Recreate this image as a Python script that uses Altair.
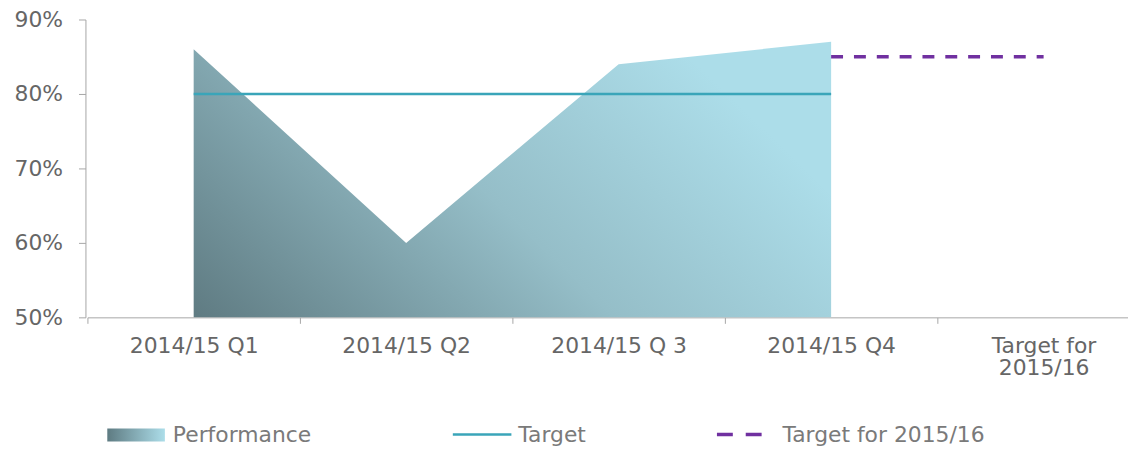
import altair as alt
import pandas as pd

categories = ["2014/15 Q1", "2014/15 Q2", "2014/15 Q 3", "2014/15 Q4", "Target for\n2015/16"]
performance = [0.86, 0.60, 0.84, 0.87]
target = [0.80, 0.80, 0.80, 0.80]
target_next_cats = ["2014/15 Q4", "Target for\n2015/16"]
target_next = [0.85, 0.85]
y_ticks = [0.5, 0.6, 0.7, 0.8, 0.9]
legend_items = ["Performance", "Target", "Target for 2015/16"]
legend_slots = [0, 1, 2]

FONT = "DejaVu Sans"
AXIS_GRAY = "#a6a6a6"

perf_df = pd.DataFrame({"cat": categories[:4], "v": performance})
target_df = pd.DataFrame({"cat": categories[:4], "v": target})
next_df = pd.DataFrame({"cat": target_next_cats, "v": target_next})
legend_df = pd.DataFrame({"item": legend_items, "slot": legend_slots})

x_axis = alt.Axis(
    title=None, labelAngle=0, tickBand="extent", grid=False,
    labelExpr="split(datum.label, '\\n')",
    labelFont=FONT, labelFontSize=22, labelColor="#666666",
    labelLineHeight=23, labelPadding=12, tickSize=6,
    domainColor=AXIS_GRAY, tickColor=AXIS_GRAY, labelLimit=300,
)
y_axis = alt.Axis(
    title=None, values=y_ticks, format=".0%", grid=False,
    labelFont=FONT, labelFontSize=22, labelColor="#666666",
    labelPadding=16, tickSize=7,
    domainColor=AXIS_GRAY, tickColor=AXIS_GRAY,
)
x_scale = alt.Scale(type="band", domain=categories, paddingInner=0, paddingOuter=0, range=[2, 1072])
y_scale = alt.Scale(domain=[0.5, 0.9], zero=False, nice=False)

def xenc(axis=True):
    return alt.X("cat:N", sort=categories, bandPosition=0.5, scale=x_scale,
                 axis=x_axis if axis else None)

def yenc():
    return alt.Y("v:Q", scale=y_scale, axis=y_axis)

grad = alt.Gradient(
    gradient="linear",
    stops=[alt.GradientStop(color="#5f7b82", offset=0),
           alt.GradientStop(color="#95bec8", offset=0.55),
           alt.GradientStop(color="#acdde9", offset=1)],
    x1=0, y1=1, x2=1, y2=0.55,
)

area = alt.Chart(perf_df).mark_area(color=grad, interpolate="linear").encode(
    x=xenc(), y=yenc(), y2=alt.datum(0.5)
)
target_line = alt.Chart(target_df).mark_line(color="#3aa5b9", strokeWidth=2.5).encode(
    x=xenc(False), y=yenc()
)
next_line = alt.Chart(next_df).mark_line(color="#7030a0", strokeWidth=3.5, strokeDash=[12, 11]).encode(
    x=xenc(False), y=yenc()
)

lx = alt.X("slot:Q", scale=alt.Scale(domain=[0, 1, 2], range=[22, 370, 636]), axis=None)
legend_grad = alt.Gradient(
    gradient="linear",
    stops=[alt.GradientStop(color="#5e7b82", offset=0),
           alt.GradientStop(color="#acdde9", offset=1)],
    x1=0, y1=0, x2=1, y2=0,
)
leg_rect = alt.Chart(legend_df).transform_filter(alt.datum.slot == 0).mark_rect(
    color=legend_grad, x2Offset=58
).encode(x=lx, x2=alt.X2("slot"), y=alt.value(412), y2=alt.value(425))
leg_target = alt.Chart(legend_df).transform_filter(alt.datum.slot == 1).mark_rule(
    color="#3aa5b9", strokeWidth=2.5, x2Offset=59
).encode(x=lx, x2=alt.X2("slot"), y=alt.value(418))
leg_next = alt.Chart(legend_df).transform_filter(alt.datum.slot == 2).mark_rule(
    color="#7030a0", strokeWidth=3.5, strokeDash=[16, 13], x2Offset=46
).encode(x=lx, x2=alt.X2("slot"), y=alt.value(418))
leg_text = alt.Chart(legend_df).mark_text(
    align="left", baseline="middle", dx=66, font=FONT, fontSize=22, color="#7a7a7a"
).encode(x=lx, y=alt.value(419), text="item:N")

chart = alt.layer(
    area, target_line, next_line, leg_rect, leg_target, leg_next, leg_text
).resolve_scale(x="independent").properties(
    width=1042, height=300,
    padding={"left": 78, "top": 10, "right": 8, "bottom": 130},
    autosize=alt.AutoSizeParams(type="none"),
).configure_view(stroke=None)

chart.save("out.html", embed_options={"renderer": "svg", "actions": False})
